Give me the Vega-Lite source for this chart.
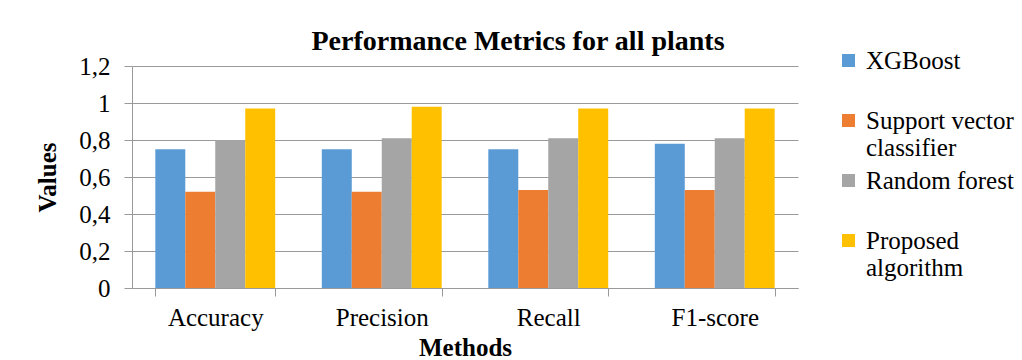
{
  "$schema": "https://vega.github.io/schema/vega-lite/v6.json",
  "autosize": {"type": "none"},
  "padding": {"left": 132, "top": 66, "right": 224, "bottom": 72},
  "width": 666,
  "height": 222,
  "background": "white",
  "title": {
    "text": "Performance Metrics for all plants",
    "font": "Liberation Serif",
    "fontSize": 28,
    "fontWeight": "bold",
    "color": "#000000",
    "anchor": "middle",
    "dx": 53,
    "offset": -8
  },
  "data": {
    "values": [
      {"metric": "Accuracy", "model": "XGBoost", "value": 0.75},
      {"metric": "Accuracy", "model": "Support vector classifier", "value": 0.52},
      {"metric": "Accuracy", "model": "Random forest", "value": 0.8},
      {"metric": "Accuracy", "model": "Proposed algorithm", "value": 0.97},
      {"metric": "Precision", "model": "XGBoost", "value": 0.75},
      {"metric": "Precision", "model": "Support vector classifier", "value": 0.52},
      {"metric": "Precision", "model": "Random forest", "value": 0.81},
      {"metric": "Precision", "model": "Proposed algorithm", "value": 0.98},
      {"metric": "Recall", "model": "XGBoost", "value": 0.75},
      {"metric": "Recall", "model": "Support vector classifier", "value": 0.53},
      {"metric": "Recall", "model": "Random forest", "value": 0.81},
      {"metric": "Recall", "model": "Proposed algorithm", "value": 0.97},
      {"metric": "F1-score", "model": "XGBoost", "value": 0.78},
      {"metric": "F1-score", "model": "Support vector classifier", "value": 0.53},
      {"metric": "F1-score", "model": "Random forest", "value": 0.81},
      {"metric": "F1-score", "model": "Proposed algorithm", "value": 0.97}
    ]
  },
  "mark": {"type": "bar"},
  "encoding": {
    "x": {
      "field": "metric",
      "type": "nominal",
      "sort": ["Accuracy", "Precision", "Recall", "F1-score"],
      "scale": {"paddingInner": 0.28, "paddingOuter": 0.14},
      "axis": {
        "title": "Methods",
        "labelAngle": 0,
        "tickBand": "extent",
        "tickSize": 8,
        "labelPadding": 9,
        "titlePadding": 5,
        "grid": false
      }
    },
    "xOffset": {
      "field": "model",
      "type": "nominal",
      "sort": ["XGBoost", "Support vector classifier", "Random forest", "Proposed algorithm"],
      "scale": {"paddingInner": 0, "paddingOuter": 0}
    },
    "y": {
      "field": "value",
      "type": "quantitative",
      "scale": {"domain": [0, 1.2], "nice": false},
      "axis": {
        "title": "Values",
        "values": [0, 0.2, 0.4, 0.6, 0.8, 1, 1.2],
        "labelExpr": "replace(format(datum.value, '~g'), '.', ',')",
        "tickSize": 8,
        "labelPadding": 14,
        "titlePadding": 18,
        "grid": true
      }
    },
    "color": {
      "field": "model",
      "type": "nominal",
      "sort": ["XGBoost", "Support vector classifier", "Random forest", "Proposed algorithm"],
      "scale": {
        "domain": ["XGBoost", "Support vector classifier", "Random forest", "Proposed algorithm"],
        "range": ["#5B9BD5", "#ED7D31", "#A5A5A5", "#FFC000"]
      },
      "legend": {
        "title": null,
        "orient": "none",
        "legendX": 704,
        "legendY": -18,
        "symbolType": "square",
        "symbolSize": 169,
        "symbolStrokeWidth": 0,
        "labelFont": "Times New Roman",
        "labelFontSize": 25,
        "labelColor": "#000000",
        "labelLimit": 300,
        "labelOffset": 5,
        "labelBaseline": "middle",
        "labelExpr": "datum.label == 'Support vector classifier' ? ['Support vector', 'classifier'] : datum.label == 'Proposed algorithm' ? ['Proposed', 'algorithm'] : datum.label",
        "gridAlign": "all",
        "rowPadding": 7
      }
    }
  },
  "config": {
    "font": "Liberation Serif",
    "view": {"stroke": null},
    "axis": {
      "labelFont": "Liberation Serif",
      "labelFontSize": 25,
      "labelColor": "#000000",
      "titleFont": "Liberation Serif",
      "titleFontSize": 25,
      "titleFontWeight": "bold",
      "titleColor": "#000000",
      "domainColor": "#9a9a9a",
      "tickColor": "#9a9a9a",
      "gridColor": "#9a9a9a",
      "domainWidth": 1,
      "tickWidth": 1,
      "gridWidth": 1
    }
  }
}
